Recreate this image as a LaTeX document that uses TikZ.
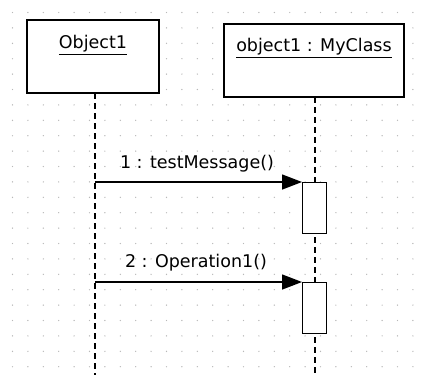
\documentclass[tikz,border=0pt]{standalone}
\usepackage{fontspec}
\setmainfont{DejaVu Sans}
\usetikzlibrary{arrows.meta}
\begin{document}
\begin{tikzpicture}[x=1pt,y=-1pt,
  objbox/.style={draw=black,line width=1.6pt,fill=white},
  actbox/.style={draw=black,line width=1pt,fill=white},
  lifeline/.style={draw=black,line width=1.2pt,dash pattern=on 6pt off 4pt},
  msg/.style={draw=black,line width=1.4pt,-{Triangle[length=20pt,width=15pt]}},
  lbl/.style={font=\fontsize{17.5}{20}\selectfont,inner sep=0pt},
  griddot/.style={fill=black!28}]
\useasboundingbox (0,0) rectangle (427,375);
\fill[white] (0,0) rectangle (427,375);
% dot grid
\foreach \i in {0,...,27}{
  \foreach \j in {0,...,23}{
    \fill[griddot] (12.5+15.4*\i,12.5+15.4*\j) circle (0.7pt);
  }
}
% lifelines
\coordinate (l1end) at (95,375);
\coordinate (l2end) at (315,375);
\draw[lifeline] (95,93) -- (l1end);
\draw[lifeline] (315,97) -- (l2end);
% objects
\draw[objbox] (27,20) rectangle (159,93);
\node[lbl] (o1) at (93,45) {\underline{Object1}};
\draw[objbox] (224,24) rectangle (404,97);
\node[lbl] (o2) at (314,48) {\underline{object1 : MyClass}};
% activations
\node[actbox,minimum width=24pt,minimum height=51pt,inner sep=0pt,anchor=north west] (a1) at (302,182) {};
\node[actbox,minimum width=24pt,minimum height=51pt,inner sep=0pt,anchor=north west] (a2) at (302,282) {};
% messages
\coordinate (m1s) at (95,182);
\coordinate (m2s) at (95,282);
\draw[msg] (m1s) -- (a1.north west);
\draw[msg] (m2s) -- (a2.north west);
\node[lbl] (t1) at (197,164) {1 : testMessage()};
\node[lbl] (t2) at (196,263) {2 : Operation1()};
\end{tikzpicture}
\end{document}
